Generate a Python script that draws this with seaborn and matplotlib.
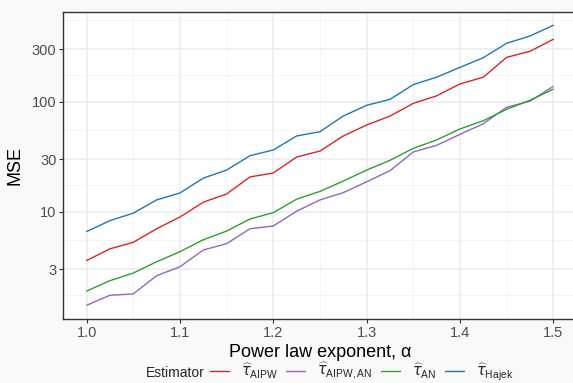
import numpy as np
import pandas as pd
import matplotlib
matplotlib.use("Agg")
import matplotlib.pyplot as plt
from matplotlib.ticker import FixedLocator, FixedFormatter, NullFormatter
from matplotlib.lines import Line2D
import seaborn as sns

alpha = [1.0, 1.025, 1.05, 1.075, 1.1, 1.125, 1.15, 1.175, 1.2, 1.225, 1.25,
         1.275, 1.3, 1.325, 1.35, 1.375, 1.4, 1.425, 1.45, 1.475, 1.5]
mse_aipw = [3.6, 4.6, 5.27, 7.0, 8.95, 12.2, 14.5, 20.7, 22.5, 31.4, 35.6,
            48.8, 61.4, 74, 96.6, 113, 145, 167, 253, 287, 369]
mse_aipw_an = [1.41, 1.74, 1.79, 2.62, 3.16, 4.49, 5.12, 7.0, 7.41, 10.1, 12.8,
               14.9, 18.7, 23.6, 34.9, 40.1, 50.5, 63, 89, 101, 138]
mse_an = [1.90, 2.36, 2.77, 3.51, 4.33, 5.56, 6.67, 8.58, 9.8, 13.0, 15.3,
          19.0, 23.9, 29.3, 37.7, 44.9, 56.5, 67.2, 85.3, 103, 130]
mse_hajek = [6.6, 8.3, 9.7, 12.8, 14.8, 20.2, 23.9, 32.3, 36.4, 48.8, 53.4,
             74.1, 92.7, 105, 143, 167, 205, 251, 340, 395, 495]

labels = [r"$\widehat{\tau}_{\mathrm{AIPW}}$", r"$\widehat{\tau}_{\mathrm{AIPW,AN}}$",
          r"$\widehat{\tau}_{\mathrm{AN}}$", r"$\widehat{\tau}_{\mathrm{Hajek}}$"]
colors = ["#d62728", "#9467bd", "#2ca02c", "#1f77b4"]
y_ticks = [3, 10, 30, 100, 300]
y_tick_labels = ["3", "10", "30", "100", "300"]
x_ticks = [1.0, 1.1, 1.2, 1.3, 1.4, 1.5]
x_tick_labels = ["1.0", "1.1", "1.2", "1.3", "1.4", "1.5"]

df = pd.concat([
    pd.DataFrame({"alpha": alpha, "MSE": v, "Estimator": lab})
    for v, lab in zip([mse_aipw, mse_aipw_an, mse_an, mse_hajek], labels)
])

sns.set_theme(style="white")
plt.rcParams["font.family"] = ["Liberation Sans", "DejaVu Sans"]
plt.rcParams["mathtext.fontset"] = "custom"
plt.rcParams["mathtext.rm"] = "Liberation Sans"
plt.rcParams["mathtext.it"] = "DejaVu Sans:italic"

W, H = 573, 383
fig = plt.figure(figsize=(W / 100, H / 100), dpi=100, facecolor="#f9f9f9")
left, right, top, bottom = 63.3, 578.0, 11.7, 319.3
ax = fig.add_axes([left / W, 1 - bottom / H, (right - left) / W, (bottom - top) / H])
ax.set_facecolor("white")

sns.lineplot(data=df, x="alpha", y="MSE", hue="Estimator", hue_order=labels,
             palette=colors, linewidth=1.0, ax=ax, legend=False)

ax.set_yscale("log")
ax.set_xlim(0.975, 1.5 + 0.025 * (right - 553.3) / 23.33)
ax.set_ylim(10 ** 0.022, 10 ** 2.818)

ax.yaxis.set_major_locator(FixedLocator(y_ticks))
ax.yaxis.set_major_formatter(FixedFormatter(y_tick_labels))
ymin_log = [0.2386, 0.7386, 1.2386, 1.7386, 2.2386, 2.7386]
ax.yaxis.set_minor_locator(FixedLocator([10 ** v for v in ymin_log]))
ax.yaxis.set_minor_formatter(NullFormatter())
ax.xaxis.set_major_locator(FixedLocator(x_ticks))
ax.xaxis.set_major_formatter(FixedFormatter(x_tick_labels))
ax.xaxis.set_minor_locator(FixedLocator([1.05, 1.15, 1.25, 1.35, 1.45]))
ax.grid(True, which="major", color="#ebebeb", linewidth=1.1)
ax.grid(True, which="minor", color="#f2f2f2", linewidth=0.6)
ax.set_axisbelow(True)

ax.tick_params(axis="both", which="major", length=3, width=0.8, color="#333333",
               labelsize=10.5, labelcolor="#4d4d4d", pad=2, direction="out")
ax.tick_params(axis="both", which="minor", length=0)
ax.tick_params(axis="x", which="major", bottom=True)
ax.tick_params(axis="y", which="major", left=True)
for s in ax.spines.values():
    s.set_color("#333333")
    s.set_linewidth(1.0)

ax.set_xlabel("Power law exponent, α", fontsize=13, color="black", labelpad=3)
ax.set_ylabel("MSE", fontsize=13, color="black", labelpad=6)

handles = [Line2D([], [], color=c, linewidth=1.0) for c in colors]
fig.text(205 / W, 1 - 373 / H, "Estimator", fontsize=10, ha="right", va="center")
leg = fig.legend(handles, labels, loc="center left", bbox_to_anchor=(207 / W, 1 - 372 / H),
                 ncol=4, frameon=False, fontsize=10.5, handlelength=1.3,
                 handletextpad=0.8, columnspacing=0.6, borderaxespad=0, borderpad=0.2)

fig.savefig("out.png", dpi=100, facecolor=fig.get_facecolor())
